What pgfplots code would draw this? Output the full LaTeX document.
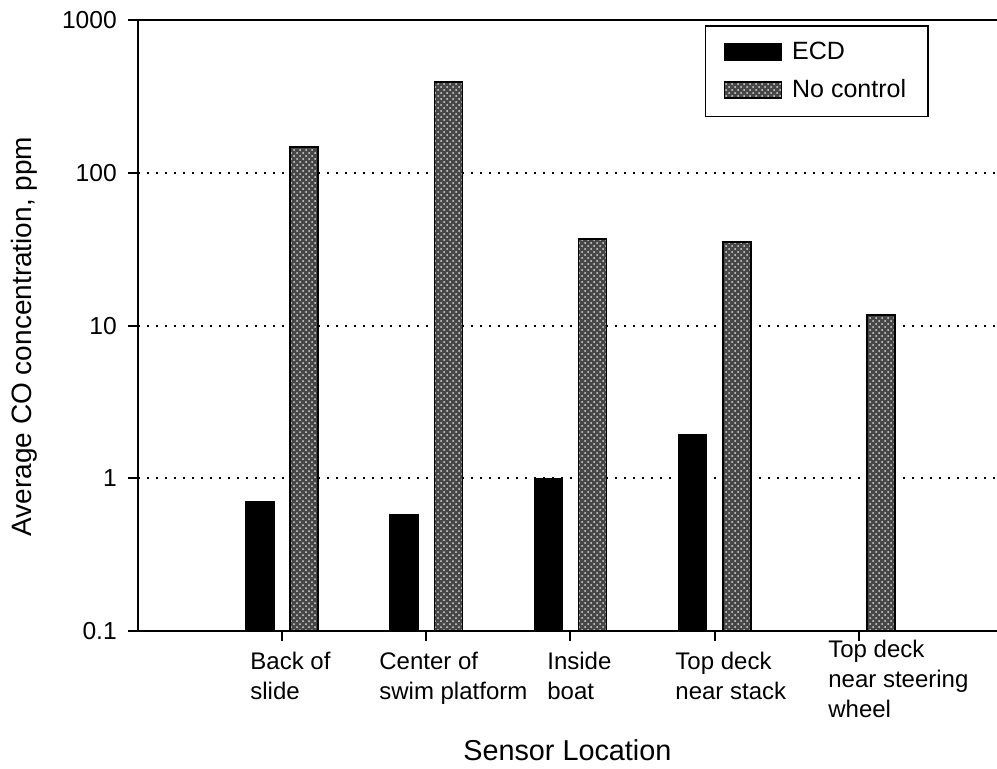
\documentclass[border=0pt]{standalone}
\usepackage{fontspec}
\setmainfont{Liberation Sans}
\usepackage{pgfplots}
\pgfplotsset{compat=1.18}
\usetikzlibrary{patterns}
\newcommand{\xtfont}{\fontsize{12}{15}\selectfont}
\begin{document}
\begin{tikzpicture}
\path[use as bounding box] (-68.9pt,-68.5pt) rectangle (429.6pt,315.5pt);
\begin{axis}[
  scale only axis,
  width=429.6pt, height=305.4pt,
  at={(0,0)}, anchor=south west,
  clip=false,
  ybar,
  ymode=log, ymin=0.1, ymax=1000, log origin y=infty,
  xmin=0, xmax=5.957,
  separate axis lines,
  axis x line=box, axis y line=left,
  axis line style={-, line width=1pt},
  xtick={1,2,3,4,5}, xticklabels={},
  xtick pos=bottom, ytick pos=left,
  tick align=outside, major tick length=5pt,
  every tick/.style={black, line width=1pt},
  ytick={0.1,1,10,100,1000},
  yticklabels={0.1,1,10,100,1000},
  yminorticks=false,
  /pgf/number format/assume math mode=true,
  yticklabel style={font=\fontsize{12.3}{14}\selectfont, xshift=-2pt},
  ymajorgrids,
  grid style={black, line width=1pt, dash pattern=on 1pt off 3.5pt},
  ylabel={Average CO concentration, ppm},
  ylabel style={at={(axis description cs:-0.1317,0.482)}, anchor=center, font=\fontsize{14}{16}\selectfont},
  xlabel={Sensor Location},
  xlabel style={at={(axis description cs:0.5,-0.2124)}, anchor=base, font=\fontsize{14.4}{16}\selectfont},
  bar width=0.194,
  legend image code/.code={\draw[#1, line width=0.8pt] (0pt,-4pt) rectangle (28.5pt,4pt);},
  legend style={at={(rel axis cs:0.9209,0.9921)}, anchor=north east, draw=black, line width=0.9pt,
    font=\fontsize{12.5}{14}\selectfont, inner xsep=9pt, inner ysep=6pt, row sep=4.5pt, column sep=3pt},
  legend cell align=left,
]
\addplot[bar shift=-0.153, fill=black, draw=black, line width=0.8pt]
  coordinates {(1,0.70) (2,0.58) (3,1.0) (4,1.92)};
\addplot[bar shift=0.153, fill=black!72, draw=black, line width=0.8pt,
  postaction={pattern=crosshatch dots, pattern color=white!85!black}]
  coordinates {(1,148) (2,395) (3,37) (4,35.4) (5,11.7)};
\legend{ECD, No control}
\node[anchor=north west, align=left, inner sep=0pt, font=\xtfont] at (axis cs:0.778,0.1) [yshift=-10.5pt] {Back of\\slide};
\node[anchor=north west, align=left, inner sep=0pt, font=\xtfont] at (axis cs:1.672,0.1) [yshift=-10.5pt] {Center of\\swim platform};
\node[anchor=north west, align=left, inner sep=0pt, font=\xtfont] at (axis cs:2.837,0.1) [yshift=-10.5pt] {Inside\\boat};
\node[anchor=north west, align=left, inner sep=0pt, font=\xtfont] at (axis cs:3.725,0.1) [yshift=-10.5pt] {Top deck\\near stack};
\node[anchor=north west, align=left, inner sep=0pt, font=\xtfont] at (axis cs:4.785,0.1) [yshift=-4.5pt] {Top deck\\near steering\\wheel};
\end{axis}
\end{tikzpicture}
\end{document}
